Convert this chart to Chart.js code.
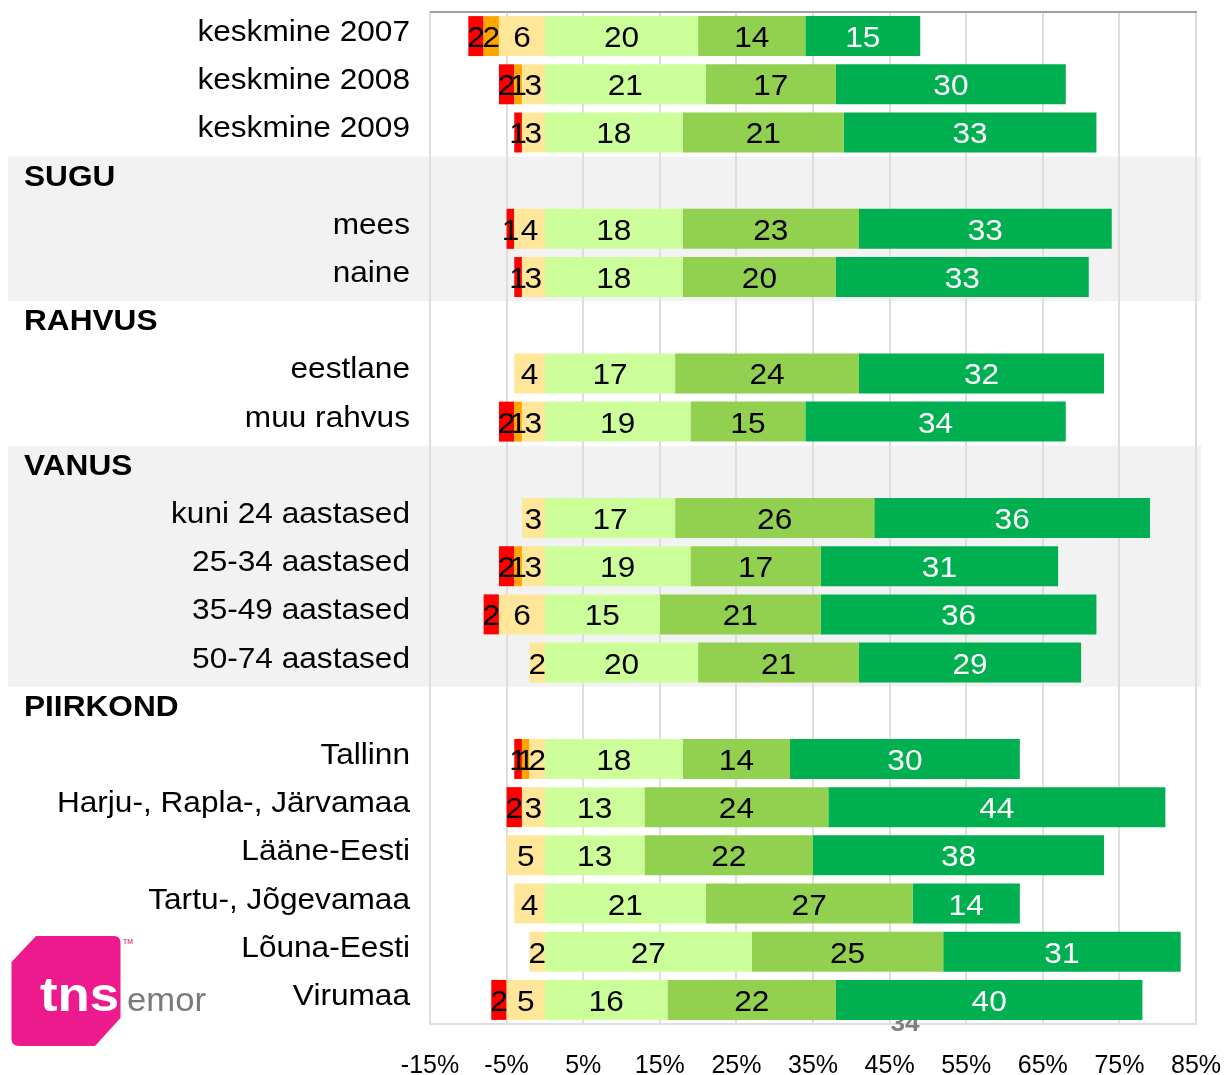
<!DOCTYPE html>
<html>
<head>
<meta charset="utf-8">
<title>Hinnangud</title>
<script src="https://cdn.jsdelivr.net/npm/chart.js@4.4.0/dist/chart.umd.min.js"></script>
<style>
    html, body { margin: 0; padding: 0; background: #fff; }
    #graafik { display: block; }
</style>
</head>
<body>
<canvas id="graafik" width="1224" height="1075"></canvas>
<script>
let kategooriad = ['keskmine 2007', 'keskmine 2008', 'keskmine 2009',
    'SUGU', 'mees', 'naine',
    'RAHVUS', 'eestlane', 'muu rahvus',
    'VANUS', 'kuni 24 aastased', '25-34 aastased', '35-49 aastased', '50-74 aastased',
    'PIIRKOND', 'Tallinn', 'Harju-, Rapla-, Järvamaa', 'Lääne-Eesti', 'Tartu-, Jõgevamaa', 'Lõuna-Eesti', 'Virumaa']

let pealkirjad = ['SUGU', 'RAHVUS', 'VANUS', 'PIIRKOND']

// negatiivne pool (joonistatakse vasakule nullist)
let punane   = [2, 2, 1, null, 1, 1, null, 0, 2, null, 0, 2, 2, 0, null, 1, 2, 0, 0, 0, 2]
let oranz    = [2, 1, 0, null, 0, 0, null, 0, 1, null, 0, 1, 0, 0, null, 1, 0, 0, 0, 0, 0]
let kollane  = [6, 3, 3, null, 4, 3, null, 4, 3, null, 3, 3, 6, 2, null, 2, 3, 5, 4, 2, 5]
// positiivne pool
let heleroheline = [20, 21, 18, null, 18, 18, null, 17, 19, null, 17, 19, 15, 20, null, 18, 13, 13, 21, 27, 16]
let roheline     = [14, 17, 21, null, 23, 20, null, 24, 15, null, 26, 17, 21, 21, null, 14, 24, 22, 27, 25, 22]
let tumeroheline = [15, 30, 33, null, 33, 33, null, 32, 34, null, 36, 31, 36, 29, null, 30, 44, 38, 14, 31, 40]

// hallid taustaribad (kategooriate indeksid)
let hallidPlokid = [[3, 5], [9, 13]]

let xMin = -15, xMax = 85, xSamm = 10

const FONT = '"Liberation Sans", Arial, sans-serif'
const VENITUS = 1.09

function tekst(ctx, str, x, y, align, font, color, venitus = VENITUS) {
    ctx.save()
    ctx.font = font
    ctx.fillStyle = color
    ctx.textAlign = align
    ctx.textBaseline = 'alphabetic'
    ctx.translate(x, y)
    ctx.scale(venitus, 1)
    ctx.fillText(str, 0, 0)
    ctx.restore()
}

const negatiivne = arr => arr.map(v => v == null ? null : -v)

function logo(ctx) {
    const roosa = '#ec1a8c'
    ctx.save()
    ctx.beginPath()
    ctx.moveTo(36, 936)
    ctx.lineTo(114, 936)
    ctx.quadraticCurveTo(120.5, 936, 120.5, 943)
    ctx.lineTo(120.5, 1018)
    ctx.lineTo(95, 1046)
    ctx.lineTo(19, 1046)
    ctx.quadraticCurveTo(11.5, 1046, 11.5, 1039)
    ctx.lineTo(11.5, 962)
    ctx.closePath()
    ctx.fillStyle = roosa
    ctx.fill()
    // "tns" - väljaspool kasti roosa, kasti sees valge
    tekst(ctx, 'tns', 40, 1011, 'left', 'bold 48px ' + FONT, roosa, 1.1)
    ctx.clip()
    tekst(ctx, 'tns', 40, 1011, 'left', 'bold 48px ' + FONT, '#fff', 1.1)
    ctx.restore()
    tekst(ctx, 'emor', 127, 1011, 'left', '33px ' + FONT, '#7a7a7a', 1.05)
    tekst(ctx, 'TM', 123, 944, 'left', 'bold 7px ' + FONT, '#d6589c', 1)
}

let joonised = {
    id: 'joonised',
    beforeDraw(chart) {
        const { ctx, scales: { y } } = chart
        const rida = y.getPixelForValue(1) - y.getPixelForValue(0)
        ctx.save()
        ctx.fillStyle = '#f2f2f2'
        hallidPlokid.forEach(([a, b]) => {
            let y1 = y.getPixelForValue(a) - rida / 2
            let y2 = y.getPixelForValue(b) + rida / 2
            ctx.fillRect(8, y1, 1193, y2 - y1)
        })
        ctx.restore()
    },
    beforeDatasetsDraw(chart) {
        const { ctx, chartArea, scales: { y } } = chart
        // lehekülje number jääb viimase riba alla
        tekst(ctx, '34', 905, 1031, 'center', 'bold 24px ' + FONT, '#7f7f7f')

        ctx.save()
        ctx.strokeStyle = '#a0a0a0'
        ctx.lineWidth = 2
        ctx.beginPath()
        ctx.moveTo(chartArea.left, chartArea.top)
        ctx.lineTo(chartArea.right + 1, chartArea.top)
        ctx.stroke()
        ctx.restore()

        kategooriad.forEach((nimi, i) => {
            let yy = y.getPixelForValue(i) + 5
            if (pealkirjad.includes(nimi)) {
                tekst(ctx, nimi, 24, yy, 'left', 'bold 29px ' + FONT, '#000')
            } else {
                tekst(ctx, nimi, 410, yy, 'right', '29px ' + FONT, '#000')
            }
        })
    },
    afterDatasetsDraw(chart) {
        const { ctx } = chart
        chart.data.datasets.forEach((ds, i) => {
            const meta = chart.getDatasetMeta(i)
            meta.data.forEach((bar, j) => {
                const v = ds.data[j]
                if (!v) return
                const x = (bar.x + bar.base) / 2
                tekst(ctx, String(Math.abs(v)), x, bar.y + 11, 'center', '29px ' + FONT, ds.sildiVarv)
            })
        })
    },
    afterDraw(chart) {
        logo(chart.ctx)
    }
}

let ctx = document.getElementById('graafik')
new Chart(ctx, {
    type: 'bar',
    data: {
        labels: kategooriad,
        datasets: [
            { label: 'kollane', data: negatiivne(kollane), backgroundColor: '#ffe699', sildiVarv: '#000' },
            { label: 'oranž', data: negatiivne(oranz), backgroundColor: '#ffa500', sildiVarv: '#000' },
            { label: 'punane', data: negatiivne(punane), backgroundColor: '#ff0000', sildiVarv: '#000' },
            { label: 'heleroheline', data: heleroheline, backgroundColor: '#ccff99', sildiVarv: '#000' },
            { label: 'roheline', data: roheline, backgroundColor: '#92d050', sildiVarv: '#000' },
            { label: 'tumeroheline', data: tumeroheline, backgroundColor: '#00b050', sildiVarv: '#fff' }
        ]
    },
    options: {
        indexAxis: 'y',
        responsive: false,
        animation: false,
        layout: { padding: { left: 430, right: 28, top: 12, bottom: 0 } },
        datasets: {
            bar: { categoryPercentage: 1, barPercentage: 0.83, borderWidth: 0 }
        },
        plugins: {
            legend: { display: false },
            tooltip: { enabled: false }
        },
        scales: {
            x: {
                stacked: true,
                min: xMin,
                max: xMax,
                ticks: {
                    stepSize: xSamm,
                    padding: 27,
                    color: '#000',
                    font: { family: FONT, size: 25 },
                    callback: value => `${value}%`
                },
                grid: { color: '#dedede', lineWidth: 2, drawTicks: false },
                border: { color: '#dedede', width: 2 },
                afterFit: scale => {
                    scale.height = 51
                    // servasiltide jaoks lisaruumi pole vaja, vasak/parem veeris on juba olemas
                    scale.paddingLeft = 0
                    scale.paddingRight = 0
                }
            },
            y: {
                stacked: true,
                display: false
            }
        }
    },
    plugins: [joonised]
})
</script>
</body>
</html>
